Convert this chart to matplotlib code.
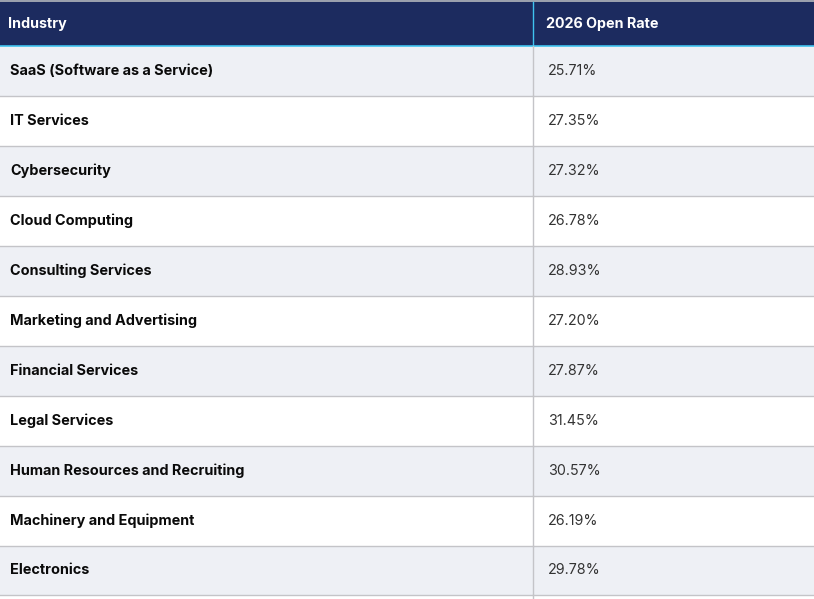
import matplotlib
matplotlib.use("Agg")
import matplotlib.pyplot as plt
from matplotlib.patches import Rectangle

headers = ["Industry", "2026 Open Rate"]
industries = [
    "SaaS (Software as a Service)",
    "IT Services",
    "Cybersecurity",
    "Cloud Computing",
    "Consulting Services",
    "Marketing and Advertising",
    "Financial Services",
    "Legal Services",
    "Human Resources and Recruiting",
    "Machinery and Equipment",
    "Electronics",
    "",
]
open_rates = ["25.71%", "27.35%", "27.32%", "26.78%", "28.93%", "27.20%",
              "27.87%", "31.45%", "30.57%", "26.19%", "29.78%", ""]

W, H = 814, 599
fig = plt.figure(figsize=(W / 100, H / 100), dpi=100)
ax = fig.add_axes([0, 0, 1, 1])
ax.set_xlim(0, W)
ax.set_ylim(H, 0)
ax.axis("off")

FONT = ["Inter", "DejaVu Sans"]
header_top, header_bot = 2, 46
row_h = 49.95
col_x = 533.0
navy = "#1c2b5f"
cyan = "#3fc3f0"
stripe = "#eef0f5"
grid = "#c4c4c8"

# top border
ax.add_patch(Rectangle((0, 0), W, header_top, color="#9aa0ad", lw=0))
# header
ax.add_patch(Rectangle((0, header_top), W, header_bot - header_top, color=navy, lw=0))
ax.plot([0, W], [header_bot - 0.5, header_bot - 0.5], color=cyan, lw=1.2)
ax.plot([col_x, col_x], [header_top, header_bot], color=cyan, lw=1.0)
ax.text(8, (header_top + header_bot) / 2, headers[0], color="white", fontsize=10.3,
        fontweight="bold", family=FONT, va="center", ha="left")
ax.text(546, (header_top + header_bot) / 2, headers[1], color="white", fontsize=10.3,
        fontweight="bold", family=FONT, va="center", ha="left")

for i, (name, rate) in enumerate(zip(industries, open_rates)):
    y0 = header_bot + i * row_h
    y1 = y0 + row_h
    if i % 2 == 0:
        ax.add_patch(Rectangle((0, y0), W, row_h, color=stripe, lw=0))
    ax.plot([0, W], [y1, y1], color=grid, lw=1.0)
    ax.plot([col_x, col_x], [y0, y1], color=grid, lw=1.0)
    yc = (y0 + y1) / 2
    ax.text(10, yc, name, color="#0a0a0a", fontsize=10.4, fontweight="bold",
            family=FONT, va="center", ha="left")
    ax.text(548, yc, rate, color="#333333", fontsize=10.3, fontweight="normal",
            family=FONT, va="center", ha="left")

fig.savefig("out.png", dpi=100)
